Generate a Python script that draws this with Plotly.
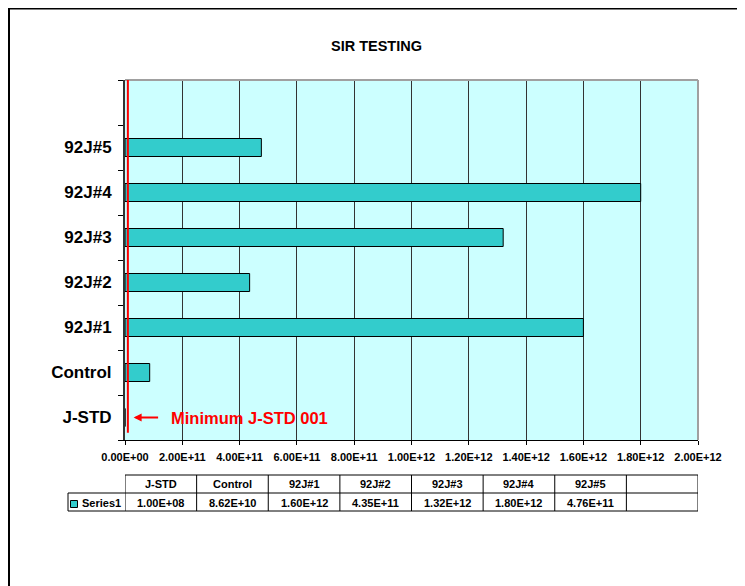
import plotly.graph_objects as go

categories = ["J-STD", "Control", "92J#1", "92J#2", "92J#3", "92J#4", "92J#5", " "]
values = [1.00e8, 8.62e10, 1.60e12, 4.35e11, 1.32e12, 1.80e12, 4.76e11, None]
series_name = "Series1"
x_tickvals = [0, 2e11, 4e11, 6e11, 8e11, 1e12, 1.2e12, 1.4e12, 1.6e12, 1.8e12, 2e12]
x_ticktext = ["0.00E+00", "2.00E+11", "4.00E+11", "6.00E+11", "8.00E+11", "1.00E+12",
              "1.20E+12", "1.40E+12", "1.60E+12", "1.80E+12", "2.00E+12"]
min_jstd_value = 1.0e10
x_max = 2e12

FONT = "Arial, Liberation Sans, sans-serif"
BAR = "#33CCCC"
BG = "#CCFFFF"

W, H = 737, 578
L, R, T, B = 117, 47, 72, 146
PW, PH = W - L - R, H - T - B
OFF = 8  # page body margin


def px_x(p):
    """window pixel -> paper x"""
    return (p - OFF - L) / PW


def px_y(p):
    """window pixel -> paper y"""
    return (T + PH - (p - OFF)) / PH


fig = go.Figure()
fig.add_trace(go.Bar(
    y=categories, x=values, orientation="h", name=series_name,
    marker=dict(color=BAR, line=dict(color="#000000", width=1)),
    showlegend=False, hoverinfo="x+y",
))

shapes = []
annotations = []

# plot border top/right (gray)
shapes.append(dict(type="line", xref="paper", yref="paper", x0=0, x1=1, y0=1, y1=1,
                   line=dict(color="#a0a0a0", width=2)))
shapes.append(dict(type="line", xref="paper", yref="paper", x0=1, x1=1, y0=0, y1=1,
                   line=dict(color="#a0a0a0", width=2)))

# red minimum line
shapes.append(dict(type="line", xref="x", yref="paper", x0=min_jstd_value, x1=min_jstd_value,
                   y0=0.02, y1=1, line=dict(color="#FF0000", width=2)))

# outer frame
shapes.append(dict(type="rect", xref="paper", yref="paper", x0=px_x(9), x1=px_x(W + 40),
                   y0=px_y(H + 40), y1=px_y(8.5),
                   line=dict(color="#000000", width=2), fillcolor="rgba(0,0,0,0)"))

# arrow + label
annotations.append(dict(x=3.0e10, y=categories[0], xref="x", yref="y", ax=26, ay=0,
                        text="", showarrow=True, arrowhead=2, arrowsize=0.8, arrowwidth=2,
                        arrowcolor="#FF0000", standoff=0))
annotations.append(dict(x=1.55e11, y=categories[0], xref="x", yref="y", xanchor="left",
                        yanchor="middle",
                        text="<b>Minimum J-STD 001</b>", showarrow=False,
                        font=dict(family=FONT, size=16.5, color="#FF0000")))

# data table below the chart
ncol = len(categories)
colw = x_max / ncol
y_top, y_mid, y_bot = px_y(475), px_y(493), px_y(511)
left_px = px_x(68)
tline = dict(color="#000000", width=1)
shapes.append(dict(type="line", xref="x", yref="paper", x0=0, x1=x_max, y0=y_top, y1=y_top, line=tline))
shapes.append(dict(type="line", xref="paper", yref="paper", x0=left_px, x1=1, y0=y_mid, y1=y_mid,
                   line=dict(color="#555555", width=1.5)))
shapes.append(dict(type="line", xref="paper", yref="paper", x0=left_px, x1=1, y0=y_bot, y1=y_bot, line=tline))
shapes.append(dict(type="line", xref="paper", yref="paper", x0=left_px, x1=left_px, y0=y_bot, y1=y_mid, line=tline))
for i in range(ncol + 1):
    shapes.append(dict(type="line", xref="x", yref="paper", x0=i * colw, x1=i * colw,
                       y0=y_bot, y1=y_top, line=tline))
row1_y = px_y(484)
row2_y = px_y(503)
for i, (c, v) in enumerate(zip(categories, values)):
    xc = (i + 0.5) * colw
    annotations.append(dict(x=xc, y=row1_y, xref="x", yref="paper", xanchor="center", yanchor="middle",
                            text=f"<b>{c.strip()}</b>", showarrow=False,
                            font=dict(family=FONT, size=11, color="#000")))
    if v is not None:
        annotations.append(dict(x=xc, y=row2_y, xref="x", yref="paper", xanchor="center", yanchor="middle",
                                text=f"<b>{v:.2E}</b>", showarrow=False,
                                font=dict(family=FONT, size=11, color="#000")))
# legend key in table
shapes.append(dict(type="rect", xref="paper", yref="paper", x0=px_x(70.5), x1=px_x(77.5),
                   y0=px_y(507.5), y1=px_y(500.5), fillcolor=BAR, line=dict(color="#000", width=1)))
annotations.append(dict(x=px_x(80), y=row2_y, xref="paper", yref="paper",
                        xanchor="left", yanchor="middle", text=f"<b>{series_name}</b>", showarrow=False,
                        font=dict(family=FONT, size=11, color="#000")))

fig.update_layout(
    width=W, height=H,
    margin=dict(l=L, r=R, t=T, b=B),
    paper_bgcolor="#FFFFFF", plot_bgcolor=BG,
    bargap=0.6,
    title=dict(text="<b>SIR TESTING</b>", x=0.5, xanchor="center", y=1 - (46 - OFF) / H, yanchor="middle",
               font=dict(family=FONT, size=14.5, color="#000")),
    xaxis=dict(range=[0, x_max], tickvals=x_tickvals, ticktext=[f"<b>{t}</b>" for t in x_ticktext],
               showgrid=True, gridcolor="#333333", gridwidth=1, zeroline=False,
               showline=True, linecolor="#000", linewidth=1, ticks="outside", ticklen=4,
               ticklabelstandoff=3,
               tickcolor="#000", tickfont=dict(family=FONT, size=11, color="#000")),
    yaxis=dict(type="category", categoryorder="array", categoryarray=categories,
               showgrid=False, showline=True, linecolor="#333", linewidth=2,
               ticks="outside", ticklen=5, tickcolor="#000", tickson="boundaries",
               ticklabelstandoff=8,
               tickvals=categories, ticktext=[f"<b>{c}</b>" for c in categories],
               tickfont=dict(family=FONT, size=17, color="#000")),
    shapes=shapes, annotations=annotations,
)

fig.write_html("out.html")
